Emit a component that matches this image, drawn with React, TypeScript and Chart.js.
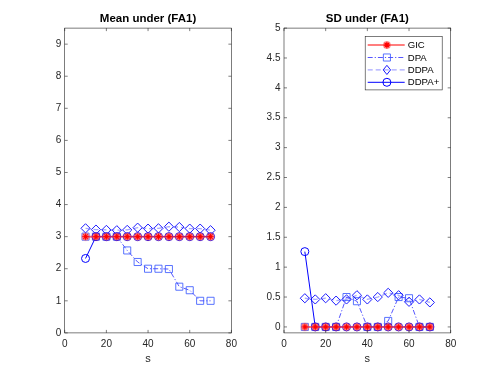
import React, { useEffect, useRef } from "react";
import { Chart, registerables } from "chart.js";

Chart.register(...registerables);

// ---------------- data ----------------
const sValues = [10, 15, 20, 25, 30, 35, 40, 45, 50, 55, 60, 65, 70];
const seriesNames = ["GIC", "DPA", "DDPA", "DDPA+"];

const meanGIC = [3, 3, 3, 3, 3, 3, 3, 3, 3, 3, 3, 3, 3];
const meanDPA = [3, 3, 3, 3, 2.57, 2.21, 2.0, 2.0, 1.99, 1.44, 1.33, 1.0, 1.0];
const meanDDPA = [3.26, 3.22, 3.21, 3.2, 3.21, 3.28, 3.25, 3.26, 3.31, 3.3, 3.25, 3.25, 3.2];
const meanDDPAplus = [2.32, 3, 3, 3, 3, 3, 3, 3, 3, 3, 3, 3, 3];

const sdGIC = [0, 0, 0, 0, 0, 0, 0, 0, 0, 0, 0, 0, 0];
const sdDPA = [0, 0, 0, 0, 0.5, 0.43, 0, 0, 0.1, 0.5, 0.48, 0, 0];
const sdDDPA = [0.48, 0.46, 0.48, 0.44, 0.46, 0.53, 0.46, 0.5, 0.57, 0.53, 0.42, 0.46, 0.41];
const sdDDPAplus = [1.26, 0, 0, 0, 0, 0, 0, 0, 0, 0, 0, 0, 0];

const xTicks = [0, 20, 40, 60, 80];
const meanYTicks = [0, 1, 2, 3, 4, 5, 6, 7, 8, 9];
const sdYTicks = [0, 0.5, 1, 1.5, 2, 2.5, 3, 3.5, 4, 4.5, 5];

// ---------------- styles ----------------
const FONT = "'Liberation Sans', Arial, Helvetica, sans-serif";
const AXIS_COLOR = "#262626";

type SeriesStyle = {
  line: string;
  lineWidth: number;
  dash: number[];
  marker: string;
  markerWidth: number;
  pointStyle: string;
  radius: number;
};

const styles: SeriesStyle[] = [
  { line: "rgba(255,40,40,0.6)", lineWidth: 2, dash: [], marker: "#ff0000", markerWidth: 1.2, pointStyle: "gic", radius: 4 },
  { line: "rgba(20,20,255,0.9)", lineWidth: 0.8, dash: [5, 2, 1.2, 2], marker: "rgba(60,90,255,0.85)", markerWidth: 1, pointStyle: "rect", radius: 5 },
  { line: "rgba(80,80,255,0.5)", lineWidth: 1.3, dash: [5, 3], marker: "#1a1aff", markerWidth: 1, pointStyle: "rectRot", radius: 4.6 },
  { line: "#0000ff", lineWidth: 1, dash: [], marker: "#0000ff", markerWidth: 1, pointStyle: "circle", radius: 4 },
];

function paintGic(ctx: CanvasRenderingContext2D, x: number, y: number) {
  ctx.save();
  ctx.setLineDash([]);
  ctx.fillStyle = "rgba(255,90,90,0.55)";
  ctx.beginPath();
  ctx.arc(x, y, 4, 0, Math.PI * 2);
  ctx.fill();
  ctx.strokeStyle = "#ff0000";
  ctx.lineWidth = 1.2;
  const r = 3.3;
  const d = r * Math.SQRT1_2;
  ctx.beginPath();
  ctx.moveTo(x - r, y); ctx.lineTo(x + r, y);
  ctx.moveTo(x, y - r); ctx.lineTo(x, y + r);
  ctx.moveTo(x - d, y - d); ctx.lineTo(x + d, y + d);
  ctx.moveTo(x - d, y + d); ctx.lineTo(x + d, y - d);
  ctx.stroke();
  ctx.restore();
}

let gicImage: HTMLCanvasElement | null = null;
function getGicImage(): HTMLCanvasElement {
  if (gicImage) return gicImage;
  const c = document.createElement("canvas");
  c.width = 11;
  c.height = 11;
  const ctx = c.getContext("2d")!;
  paintGic(ctx, 5.5, 5.5);
  gicImage = c;
  return c;
}

function drawMarker(ctx: CanvasRenderingContext2D, st: SeriesStyle, x: number, y: number) {
  if (st.pointStyle === "gic") {
    paintGic(ctx, x, y);
    return;
  }
  ctx.save();
  ctx.setLineDash([]);
  ctx.strokeStyle = st.marker;
  ctx.lineWidth = st.markerWidth;
  ctx.beginPath();
  const r = st.radius;
  if (st.pointStyle === "rect") {
    const s = r * Math.SQRT1_2;
    ctx.rect(x - s, y - s, 2 * s, 2 * s);
  } else if (st.pointStyle === "rectRot") {
    ctx.moveTo(x, y - r); ctx.lineTo(x + r * 0.8, y); ctx.lineTo(x, y + r); ctx.lineTo(x - r * 0.8, y); ctx.closePath();
  } else {
    ctx.arc(x, y, r, 0, Math.PI * 2);
  }
  ctx.stroke();
  ctx.restore();
}

// box + inward ticks, like MATLAB axes
const matlabAxes = {
  id: "matlabAxes",
  afterDraw(chart: any) {
    const { ctx, chartArea: ca, scales } = chart;
    ctx.save();
    ctx.strokeStyle = AXIS_COLOR;
    ctx.lineWidth = 0.6;
    ctx.setLineDash([]);
    ctx.strokeRect(ca.left, ca.top, ca.right - ca.left, ca.bottom - ca.top);
    const tl = 3;
    ctx.beginPath();
    for (const t of scales.x.ticks) {
      const px = scales.x.getPixelForValue(t.value);
      ctx.moveTo(px, ca.bottom); ctx.lineTo(px, ca.bottom - tl);
      ctx.moveTo(px, ca.top); ctx.lineTo(px, ca.top + tl);
    }
    for (const t of scales.y.ticks) {
      const py = scales.y.getPixelForValue(t.value);
      ctx.moveTo(ca.left, py); ctx.lineTo(ca.left + tl, py);
      ctx.moveTo(ca.right, py); ctx.lineTo(ca.right - tl, py);
    }
    ctx.stroke();
    ctx.restore();
  },
};

const matlabLegend = {
  id: "matlabLegend",
  afterDraw(chart: any, _args: any, opts: any) {
    if (!opts || !opts.show) return;
    const { ctx, chartArea: ca } = chart;
    const right = ca.right - 8.5;
    const left = right - 77;
    const top = ca.top + 8.3;
    const h = 53.5;
    ctx.save();
    ctx.fillStyle = "#ffffff";
    ctx.fillRect(left, top, right - left, h);
    ctx.strokeStyle = AXIS_COLOR;
    ctx.lineWidth = 0.6;
    ctx.strokeRect(left, top, right - left, h);
    seriesNames.forEach((name, i) => {
      const st = styles[i];
      const y = top + 8.7 + i * 12.4;
      ctx.save();
      ctx.strokeStyle = st.line;
      ctx.lineWidth = st.lineWidth;
      ctx.setLineDash(st.dash);
      ctx.beginPath();
      ctx.moveTo(left + 2.5, y);
      ctx.lineTo(left + 39.5, y);
      ctx.stroke();
      ctx.restore();
      drawMarker(ctx, st, left + 21.7, y);
      ctx.fillStyle = "#000000";
      ctx.font = `9.6px ${FONT}`;
      ctx.textBaseline = "middle";
      ctx.textAlign = "left";
      ctx.fillText(name, left + 42.5, y + 0.5);
    });
    ctx.restore();
  },
};

function buildConfig(title: string, series: number[][], yMin: number, yMax: number, yTicks: number[], plotLeft: number, plotRightPad: number, showLegend: boolean): any {
  const datasets = series.map((vals, i) => {
    const st = styles[i];
    return {
      label: seriesNames[i],
      data: sValues.map((s, k) => ({ x: s, y: vals[k] })),
      borderColor: st.line,
      borderWidth: st.lineWidth,
      borderDash: st.dash,
      pointStyle: st.pointStyle === "gic" ? getGicImage() : st.pointStyle,
      pointRadius: st.radius,
      pointBorderColor: st.marker,
      pointBorderWidth: st.markerWidth,
      pointBackgroundColor: "rgba(0,0,0,0)",
      fill: false,
      tension: 0,
      // GIC on top, then DDPA+, DDPA, DPA
      order: i === 0 ? 0 : series.length - i,
    };
  });
  return {
    type: "line",
    data: { datasets },
    plugins: [matlabAxes, matlabLegend],
    options: {
      responsive: false,
      animation: false,
      events: [],
      layout: { padding: { left: 0, right: plotRightPad, top: 0, bottom: 0 } },
      plugins: {
        legend: { display: false },
        tooltip: { enabled: false },
        matlabLegend: { show: showLegend },
        title: {
          display: true,
          fullSize: false,
          text: title,
          color: "#000000",
          font: { family: FONT, size: 11.5, weight: "bold", lineHeight: 1.2 },
          padding: { top: 12.3, bottom: 2 },
        },
      },
      scales: {
        x: {
          type: "linear",
          min: 0,
          max: 80,
          afterBuildTicks: (sc: any) => { sc.ticks = xTicks.map((v) => ({ value: v })); },
          afterFit: (sc: any) => { sc.height = 41.1; },
          grid: { display: false, drawTicks: false },
          border: { display: false },
          ticks: { color: AXIS_COLOR, font: { family: FONT, size: 10 }, padding: 5, maxRotation: 0, autoSkip: false },
          title: {
            display: true,
            text: "s",
            color: AXIS_COLOR,
            font: { family: FONT, size: 11, lineHeight: 1.2 },
            padding: { top: 0, bottom: 8.4 },
          },
        },
        y: {
          type: "linear",
          min: yMin,
          max: yMax,
          afterBuildTicks: (sc: any) => { sc.ticks = yTicks.map((v) => ({ value: v })); },
          afterFit: (sc: any) => { sc.width = plotLeft; },
          grid: { display: false, drawTicks: false },
          border: { display: false },
          ticks: {
            color: AXIS_COLOR,
            font: { family: FONT, size: 10 },
            padding: 3.5,
            autoSkip: false,
            callback: (v: any) => String(v),
          },
        },
      },
    },
  };
}

function Panel(props: { left: number; width: number; config: () => any }) {
  const ref = useRef<HTMLCanvasElement | null>(null);
  useEffect(() => {
    if (!ref.current) return;
    const chart = new Chart(ref.current, props.config());
    return () => chart.destroy();
  }, []);
  return (
    <canvas
      ref={ref}
      width={props.width}
      height={374}
      style={{ position: "absolute", left: props.left, top: 0, width: props.width, height: 374, display: "block" }}
    />
  );
}

export default function App() {
  return (
    <div style={{ position: "fixed", left: 0, top: 0, width: 498, height: 374, background: "#ffffff", overflow: "hidden" }}>
      <Panel
        left={0}
        width={249}
        config={() => buildConfig("Mean under (FA1)", [meanGIC, meanDPA, meanDDPA, meanDDPAplus], 0, 9.5, meanYTicks, 64.7, 249 - 231.4, false)}
      />
      <Panel
        left={249}
        width={249}
        config={() => buildConfig("SD under (FA1)", [sdGIC, sdDPA, sdDDPA, sdDDPAplus], -0.1, 5, sdYTicks, 284 - 249, 498 - 450.7, true)}
      />
    </div>
  );
}
